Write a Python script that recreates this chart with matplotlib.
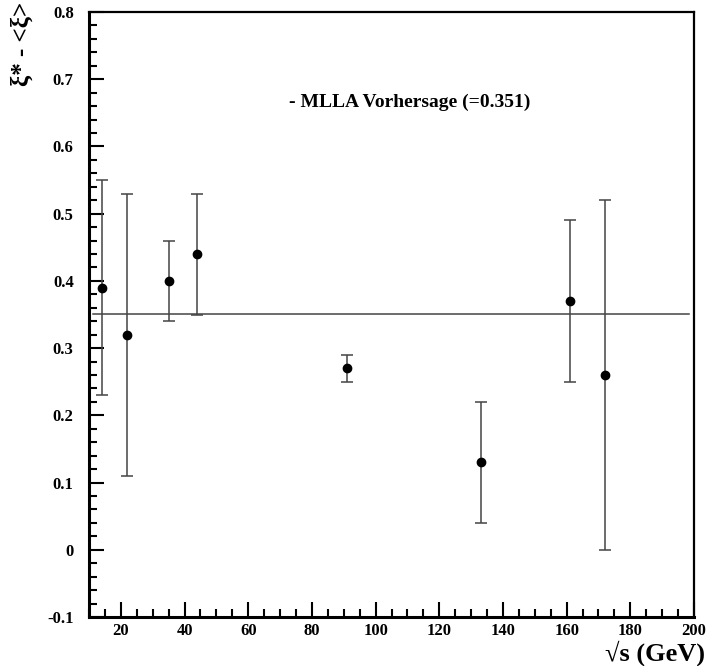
import numpy as np
import matplotlib
matplotlib.use('Agg')
import matplotlib.pyplot as plt
from matplotlib.ticker import MultipleLocator

plt.rcParams['font.family'] = ['Liberation Serif', 'DejaVu Serif']
plt.rcParams['font.weight'] = 'bold'

# measurements: sqrt(s) in GeV, value, lower and upper end of error bar
sqrt_s = [14, 22, 35, 44, 91, 133, 161, 172]
xi_diff = [0.39, 0.32, 0.40, 0.44, 0.27, 0.13, 0.37, 0.26]
err_lo = [0.23, 0.11, 0.34, 0.35, 0.25, 0.04, 0.25, 0.00]
err_hi = [0.55, 0.53, 0.46, 0.53, 0.29, 0.22, 0.49, 0.52]

# MLLA prediction
mlla_value = 0.351
mlla_range = [11.2, 198.5]

y = np.array(xi_diff)
yerr = [y - np.array(err_lo), np.array(err_hi) - y]

fig = plt.figure(figsize=(7.06, 6.66), dpi=100)
ax = fig.add_axes([89/706, 49/666, 605/706, 605/666])

ax.plot(mlla_range, [mlla_value, mlla_value], color='#444444', lw=1.1)
ax.errorbar(sqrt_s, xi_diff, yerr=yerr, fmt='o', color='black', ms=6,
            ecolor='#444444', elinewidth=1.1, capsize=4, capthick=1.1)

ax.set_xlim(10, 200)
ax.set_ylim(-0.1, 0.8)
ax.xaxis.set_major_locator(MultipleLocator(20))
ax.xaxis.set_minor_locator(MultipleLocator(5))
ax.yaxis.set_major_locator(MultipleLocator(0.1))
ax.yaxis.set_minor_locator(MultipleLocator(0.02))
ax.tick_params(which='both', direction='in', top=False, right=False, width=1.5)
ax.tick_params(which='major', length=11, labelsize=12)
ax.tick_params(which='minor', length=6)
ax.tick_params(axis='x', which='major', pad=4)
ax.tick_params(axis='y', which='major', pad=11)
ax.xaxis.set_major_formatter(plt.FuncFormatter(lambda v, p: '%g' % v))
ax.yaxis.set_major_formatter(plt.FuncFormatter(lambda v, p: '%g' % round(v, 2)))
for lab in ax.get_xticklabels() + ax.get_yticklabels():
    lab.set_fontweight('bold')
ax.get_xticklabels()[0].set_visible(False)

for side in ['left', 'bottom']:
    ax.spines[side].set_linewidth(2.2)
for side in ['right', 'top']:
    ax.spines[side].set_linewidth(1.6)

ax.text(0.331, 0.85, '- MLLA Vorhersage (=0.351)', transform=ax.transAxes,
        fontsize=14, fontweight='bold', ha='left', va='center')

fig.text(0.032, 0.998, 'ξ* - <ξ>', rotation=90, fontsize=18, fontweight='bold',
         ha='center', va='top')
fig.text(0.998, 0.0, '√s (GeV)', fontsize=19, fontweight='bold',
         ha='right', va='bottom')

fig.savefig('out.png', dpi=100)
